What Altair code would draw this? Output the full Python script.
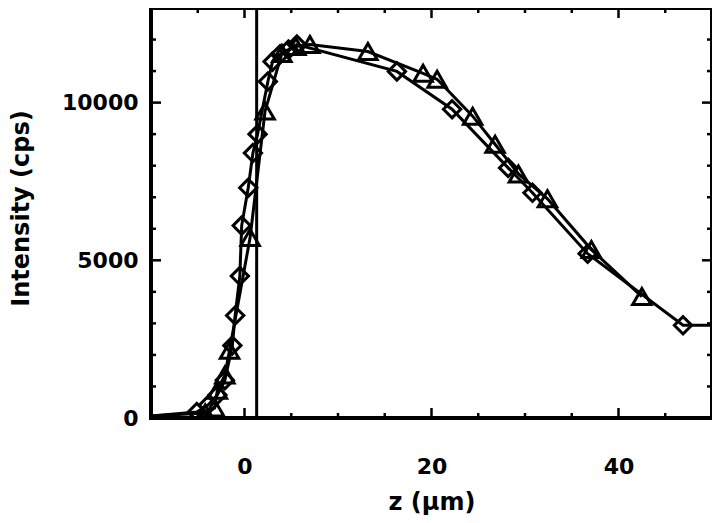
import altair as alt
import pandas as pd

# Diamond series (markers)
z_d = [-5.1, -3.9, -2.9, -2.1, -1.3, -1.0, -0.5, -0.3, 0.4, 0.9, 1.4, 2.5, 3.0, 3.8, 4.7, 5.6,
       16.3, 22.2, 28.2, 30.8, 36.7, 46.9]
i_d = [190, 410, 730, 1200, 2300, 3250, 4500, 6100, 7300, 8400, 9000, 10670, 11300, 11530, 11680, 11840,
       10990, 9790, 7930, 7140, 5210, 2940]
# Triangle series (markers)
z_t = [-4.2, -3.2, -2.9, -2.1, -1.6, 0.6, 2.2, 4.0, 5.5, 7.0, 13.2, 19.1, 20.6, 24.4, 26.8, 29.3,
       32.4, 37.1, 42.5]
i_t = [160, 320, 880, 1360, 2150, 5720, 9730, 11560, 11780, 11840, 11620, 10930, 10740, 9570, 8680,
       7740, 6950, 5340, 3850]
# line continuations to the frame edges (no markers)
z_d_edge = [-10, 50]
i_d_edge = [60, 2940]
z_t_edge = [-10]
i_t_edge = [60]

vline_z = [1.3]

x_major = [0, 20, 40]
x_minor = [-5, 5, 10, 15, 25, 30, 35, 45]
y_major = [0, 5000, 10000]
y_minor = [1000, 2000, 3000, 4000, 6000, 7000, 8000, 9000, 11000, 12000]

W, H = 561, 410
FONT = "DejaVu Sans"

df_d = pd.DataFrame({"z": z_d, "I": i_d, "s": "d"})
df_t = pd.DataFrame({"z": z_t, "I": i_t, "s": "t"})
df_lines = pd.concat([
    df_d, df_t,
    pd.DataFrame({"z": z_d_edge, "I": i_d_edge, "s": "d"}),
    pd.DataFrame({"z": z_t_edge, "I": i_t_edge, "s": "t"}),
]).sort_values(["s", "z"])

xs = alt.Scale(domain=[-10, 50], nice=False, zero=False)
ys = alt.Scale(domain=[0, 13000], nice=False, zero=False)

xenc = alt.X("z:Q", scale=xs, axis=alt.Axis(
    values=x_major, format="d", title="z (μm)", grid=False, ticks=False, domain=False,
    labelFont=FONT, labelFontSize=22, labelFontWeight="bold", labelColor="black", labelPadding=38,
    titleFont=FONT, titleFontSize=24, titleFontWeight="bold", titleColor="black",
    titleY=91, titleBaseline="alphabetic"))
yenc = alt.Y("I:Q", scale=ys, axis=alt.Axis(
    values=y_major, format="d", title="Intensity (cps)", grid=False, ticks=False, domain=False,
    labelFont=FONT, labelFontSize=22, labelFontWeight="bold", labelColor="black", labelPadding=13,
    titleFont=FONT, titleFontSize=24, titleFontWeight="bold", titleColor="black",
    titleX=-130, titleY=200, titleAngle=270, titleAlign="center", titleBaseline="middle"))

lines = alt.Chart(df_lines).mark_line(color="black", strokeWidth=3, clip=True).encode(
    x=xenc, y=yenc, detail="s:N")

pts_d = alt.Chart(df_d).mark_point(shape="diamond", filled=False, size=300, strokeWidth=3,
                                   color="black", opacity=1, clip=True).encode(x="z:Q", y="I:Q")
pts_t = alt.Chart(df_t).mark_point(shape="triangle-up", filled=False, size=340, strokeWidth=3,
                                   color="black", opacity=1, clip=True).encode(x="z:Q", y="I:Q")

vline = alt.Chart(pd.DataFrame({"z": vline_z})).mark_rule(color="black", strokeWidth=3).encode(
    x="z:Q")

def xticks(vals, ln):
    d = pd.DataFrame({"z": vals})
    b = alt.Chart(d).mark_rule(color="black", strokeWidth=2.5).encode(
        x="z:Q", y=alt.value(H), y2=alt.value(H - ln))
    t = alt.Chart(d).mark_rule(color="black", strokeWidth=2.5).encode(
        x="z:Q", y=alt.value(0), y2=alt.value(ln))
    return b + t

def yticks(vals, ln):
    d = pd.DataFrame({"I": vals})
    l = alt.Chart(d).mark_rule(color="black", strokeWidth=2.5).encode(
        y="I:Q", x=alt.value(0), x2=alt.value(ln))
    r = alt.Chart(d).mark_rule(color="black", strokeWidth=2.5).encode(
        y="I:Q", x=alt.value(W), x2=alt.value(W - ln))
    return l + r

chart = alt.layer(
    lines, vline, pts_d, pts_t,
    xticks(x_major, 10), xticks(x_minor, 5), yticks(y_major, 10), yticks(y_minor, 5),
).properties(
    width=W, height=H,
    autosize=alt.AutoSizeParams(type="none"),
    padding={"left": 143, "top": 0, "right": 0, "bottom": 97},
    background="white",
).configure_view(stroke="black", strokeWidth=4)

chart.save("out.html", embed_options={"renderer": "svg", "actions": False})
